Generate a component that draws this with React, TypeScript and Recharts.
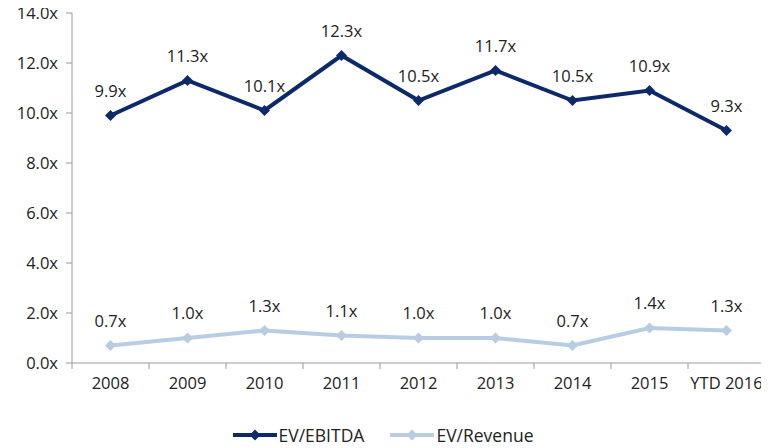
import {
  LineChart,
  Line,
  XAxis,
  YAxis,
  Legend,
  LabelList,
} from "recharts";

const years = ["2008", "2009", "2010", "2011", "2012", "2013", "2014", "2015", "YTD 2016"];
const evEbitda = [9.9, 11.3, 10.1, 12.3, 10.5, 11.7, 10.5, 10.9, 9.3];
const evRevenue = [0.7, 1.0, 1.3, 1.1, 1.0, 1.0, 0.7, 1.4, 1.3];
const yTicks = [0, 2, 4, 6, 8, 10, 12, 14];
// category boundaries for the x tick marks
const bandEdges = years.map((_, i) => i).concat(years.length);

const NAVY = "#0c2a69";
const LIGHT = "#b8cce4";
const FONT = "'Open Sans', sans-serif";

const data = years.map((year, i) => ({
  year,
  pos: i + 0.5,
  ebitda: evEbitda[i],
  revenue: evRevenue[i],
}));

const fmt = (v: number) => `${v.toFixed(1)}x`;

// diamond marker
const diamond = (color: string) => (props: any) => {
  const { cx, cy, index } = props;
  if (cx == null || cy == null) return <g key={index} />;
  const r = 5.5;
  return (
    <polygon
      key={index}
      points={`${cx},${cy - r} ${cx + r},${cy} ${cx},${cy + r} ${cx - r},${cy}`}
      fill={color}
    />
  );
};

// year label drawn at the middle of each band
const YearTick = (props: any) => {
  const { x, y, payload, width } = props;
  const i = payload.value;
  if (i >= years.length) return <g />;
  const band = width / years.length;
  return (
    <text
      x={x + band / 2}
      y={y + 18}
      textAnchor="middle"
      fill="#222"
      fontSize={16.5}
      fontFamily={FONT}
    >
      {years[i]}
    </text>
  );
};

const LegendBox = () => {
  const items = [
    { name: "EV/EBITDA", color: NAVY },
    { name: "EV/Revenue", color: LIGHT },
  ];
  return (
    <div
      style={{
        display: "flex",
        justifyContent: "center",
        gap: 25,
        paddingTop: 12,
        fontFamily: FONT,
        fontSize: 17.5,
        color: "#222",
      }}
    >
      {items.map((it) => (
        <div key={it.name} style={{ display: "flex", alignItems: "center" }}>
          <svg width={46} height={14}>
            <line x1={1} y1={7} x2={45} y2={7} stroke={it.color} strokeWidth={4} />
            <polygon points="23,1.5 28.5,7 23,12.5 17.5,7" fill={it.color} />
          </svg>
          <span style={{ marginLeft: 1 }}>{it.name}</span>
        </div>
      ))}
    </div>
  );
};

export default function App() {
  return (
    <div style={{ margin: "-8px 0 0 -8px", background: "#fff", width: 769, height: 448 }}>
      <LineChart
        width={769}
        height={448}
        data={data}
        margin={{ top: 13, right: 4, left: 0, bottom: 0 }}
      >
        <XAxis
          dataKey="pos"
          type="number"
          domain={[0, years.length]}
          ticks={bandEdges}
          interval={0}
          stroke="#9a9a9a"
          tickSize={6}
          height={48}
          tick={<YearTick />}
        />
        <YAxis
          domain={[0, 14]}
          ticks={yTicks}
          width={72}
          stroke="#9a9a9a"
          tickSize={6}
          tickFormatter={fmt}
          tick={{ fill: "#222", fontSize: 16.5, fontFamily: FONT, dx: -6 }}
        />
        <Legend verticalAlign="bottom" height={37} content={<LegendBox />} />
        <Line
          dataKey="ebitda"
          stroke={NAVY}
          strokeWidth={4}
          dot={diamond(NAVY)}
          isAnimationActive={false}
        >
          <LabelList
            dataKey="ebitda"
            position="top"
            offset={19}
            formatter={(v: any) => fmt(Number(v))}
            style={{ fill: "#222", fontSize: 16.5, fontFamily: FONT }}
          />
        </Line>
        <Line
          dataKey="revenue"
          stroke={LIGHT}
          strokeWidth={4}
          dot={diamond(LIGHT)}
          isAnimationActive={false}
        >
          <LabelList
            dataKey="revenue"
            position="top"
            offset={19}
            formatter={(v: any) => fmt(Number(v))}
            style={{ fill: "#222", fontSize: 16.5, fontFamily: FONT }}
          />
        </Line>
      </LineChart>
    </div>
  );
}
